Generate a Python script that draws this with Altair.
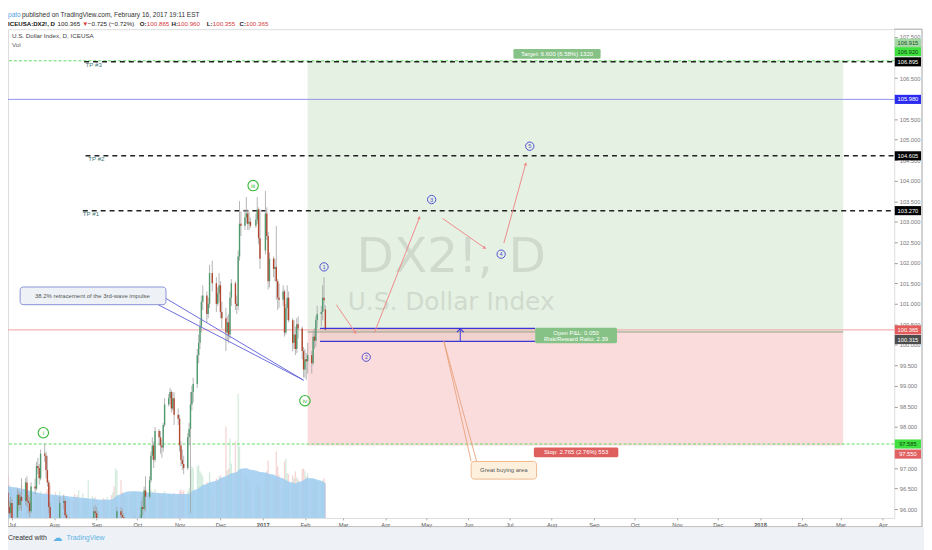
import math
import altair as alt
import pandas as pd

W, H = 894, 493
FONT = "Liberation Sans"

# ---------------- trading days ----------------
holidays = ["2016-07-04", "2016-09-05", "2016-11-24", "2016-12-26", "2017-01-02"]
trade_days = [d for d in pd.bdate_range("2016-06-28", "2017-02-16")
              if d.strftime("%Y-%m-%d") not in holidays]
dates = [d.strftime("%Y-%m-%dT00:00:00") for d in trade_days]

# ---------------- OHLC (Jun28-Jul | Aug | Sep | Oct | Nov | Dec | Jan | Feb) ----------------
opens = [
    96.40, 96.05, 95.90, 96.15, 95.80, 96.35, 96.10, 96.30, 96.20, 96.65, 96.20, 96.15, 95.95, 96.55, 96.50, 97.05, 97.00, 96.75, 97.35, 97.30, 96.95, 96.65, 96.05,
    95.45, 95.60, 95.05, 95.35, 95.60, 96.15, 96.20, 95.85, 95.50, 95.65, 95.50, 95.25, 94.75, 94.70, 94.30, 94.50, 94.55, 94.45, 94.80, 94.85, 95.45, 95.70, 95.95,
    95.90, 95.65, 95.60, 94.85, 94.70, 95.00, 95.25, 95.00, 95.35, 95.30, 95.40, 95.95, 95.85, 95.80, 95.15, 95.20, 95.30, 95.15, 95.35, 95.50, 95.70,
    95.35, 95.70, 96.05, 96.00, 96.45, 96.30, 96.70, 97.30, 97.55, 97.20, 97.90, 97.75, 97.55, 97.50, 98.05, 98.55, 98.70, 98.85, 98.45, 98.70, 98.30,
    98.20, 97.55, 97.20, 97.10, 97.00, 97.75, 97.95, 98.55, 98.85, 99.05, 99.75, 100.05, 100.45, 101.05, 101.20, 100.75, 101.00, 101.75, 101.50, 101.00, 101.25,
    101.45, 100.80, 100.65, 100.30, 100.55, 100.25, 101.15, 101.50, 101.00, 100.95, 102.15, 102.95, 102.90, 103.10, 103.20, 102.95, 103.00, 102.90, 103.05, 103.30, 102.60,
    102.30, 103.20, 102.65, 101.55, 102.10, 101.85, 101.90, 101.55, 101.15, 101.10, 101.30, 100.30, 100.90, 101.15, 100.60, 100.05, 100.25, 99.90, 100.50, 100.40, 99.85,
    99.40, 99.65, 99.60, 99.75, 99.55, 100.20, 100.10, 100.60, 100.75, 100.80, 101.15, 100.865,
]
highs = [
    96.55, 96.20, 96.30, 96.25, 96.50, 96.45, 96.40, 96.75, 96.75, 96.80, 96.35, 96.30, 96.65, 96.75, 97.15, 97.25, 97.10, 97.45, 97.60, 97.40, 97.30, 96.70, 96.15,
    95.75, 95.65, 95.40, 95.70, 96.30, 96.35, 96.25, 95.90, 95.75, 95.80, 95.60, 95.30, 94.95, 94.75, 94.55, 94.70, 94.60, 94.90, 94.95, 95.75, 95.80, 96.05, 96.10,
    96.05, 95.95, 95.70, 95.00, 95.10, 95.40, 95.30, 95.45, 95.50, 95.50, 96.05, 96.05, 96.00, 95.90, 95.30, 95.40, 95.40, 95.45, 95.60, 95.80, 95.75,
    95.85, 96.20, 96.30, 96.55, 96.80, 96.80, 97.40, 97.75, 97.65, 98.00, 97.95, 97.90, 97.70, 98.10, 98.70, 98.80, 98.95, 98.90, 98.85, 98.85, 98.45,
    98.30, 97.65, 97.45, 97.30, 97.85, 98.10, 98.85, 99.00, 99.20, 99.90, 100.25, 100.60, 101.20, 101.45, 101.30, 101.15, 101.95, 102.05, 101.65, 101.40, 101.75,
    101.55, 101.05, 100.90, 100.70, 100.75, 101.30, 101.60, 101.55, 101.20, 102.30, 103.50, 103.25, 103.30, 103.60, 103.30, 103.25, 103.10, 103.20, 103.60, 103.35, 103.30,
    103.75, 103.35, 102.75, 102.25, 102.15, 102.10, 102.90, 101.60, 101.50, 101.45, 101.35, 101.00, 101.45, 101.30, 100.65, 100.60, 100.45, 100.65, 100.70, 100.45, 99.95,
    99.90, 99.80, 100.05, 99.85, 100.35, 100.40, 100.70, 100.95, 100.95, 101.45, 101.65, 100.96,
]
lows = [
    95.90, 95.80, 95.80, 95.60, 95.75, 95.95, 96.00, 95.95, 96.10, 96.05, 95.90, 95.80, 95.90, 96.35, 96.45, 96.85, 96.60, 96.70, 97.15, 96.75, 96.55, 95.90, 95.30,
    95.35, 94.95, 94.95, 95.25, 95.55, 96.00, 95.80, 95.40, 95.40, 95.35, 95.15, 94.60, 94.55, 94.20, 94.10, 94.30, 94.20, 94.40, 94.65, 94.30, 95.35, 95.60, 95.80,
    95.55, 95.35, 94.70, 94.50, 94.60, 94.85, 94.80, 94.95, 95.15, 95.05, 95.35, 95.70, 95.65, 95.05, 94.90, 95.10, 95.05, 95.05, 95.25, 95.40, 95.30,
    95.30, 95.60, 95.85, 95.95, 95.95, 96.25, 96.65, 97.20, 97.00, 97.15, 97.55, 97.35, 97.25, 97.40, 98.00, 98.50, 98.55, 98.35, 98.40, 98.05, 98.05,
    97.40, 97.05, 96.95, 96.85, 96.95, 97.55, 95.90, 98.40, 98.60, 98.95, 99.55, 99.90, 100.30, 100.85, 100.55, 100.65, 100.90, 101.30, 100.80, 100.95, 101.05,
    100.65, 100.40, 99.85, 100.10, 100.05, 100.15, 100.95, 100.85, 100.75, 100.85, 102.05, 102.65, 102.80, 102.95, 102.80, 102.80, 102.85, 102.85, 102.95, 102.45, 101.85,
    102.20, 102.55, 101.35, 101.40, 101.65, 101.55, 101.10, 100.85, 100.90, 100.95, 100.20, 100.25, 100.60, 100.55, 99.85, 99.90, 99.75, 99.80, 100.15, 99.65, 99.20,
    99.20, 99.15, 99.30, 99.30, 99.50, 99.90, 99.95, 100.40, 100.45, 100.60, 100.85, 100.355,
]
closes = [
    96.05, 95.90, 96.15, 95.75, 96.35, 96.10, 96.30, 96.20, 96.65, 96.20, 96.15, 95.95, 96.55, 96.50, 97.05, 97.00, 96.75, 97.35, 97.30, 96.95, 96.65, 96.05, 95.45,
    95.60, 95.05, 95.35, 95.60, 96.15, 96.20, 95.85, 95.50, 95.65, 95.50, 95.25, 94.75, 94.70, 94.30, 94.50, 94.55, 94.45, 94.80, 94.85, 95.45, 95.70, 95.95, 95.90,
    95.65, 95.75, 94.85, 94.70, 95.00, 95.25, 95.00, 95.35, 95.30, 95.40, 95.95, 95.85, 95.80, 95.15, 95.20, 95.30, 95.15, 95.35, 95.50, 95.70, 95.35,
    95.70, 96.05, 96.00, 96.45, 96.30, 96.70, 97.30, 97.55, 97.20, 97.90, 97.75, 97.55, 97.50, 98.05, 98.55, 98.70, 98.85, 98.45, 98.70, 98.30, 98.20,
    97.55, 97.20, 97.10, 97.00, 97.75, 97.95, 98.55, 98.85, 99.05, 99.75, 100.05, 100.45, 101.05, 101.20, 100.75, 101.00, 101.75, 101.50, 101.00, 101.25, 101.45,
    100.80, 100.65, 100.30, 100.55, 100.25, 101.15, 101.50, 101.00, 100.95, 102.15, 102.95, 102.90, 103.10, 103.20, 102.95, 103.00, 102.90, 103.05, 103.30, 102.60, 102.10,
    103.20, 102.65, 101.55, 102.10, 101.85, 101.90, 101.55, 101.15, 101.10, 101.30, 100.30, 100.90, 101.15, 100.60, 100.05, 100.25, 99.90, 100.50, 100.40, 99.85, 99.40,
    99.65, 99.60, 99.75, 99.55, 100.20, 100.10, 100.60, 100.75, 100.80, 101.15, 101.09, 100.365,
]
volumes = [
    4200, 3300, 3100, 2900, 2700, 3000, 2600, 3300, 2500, 2800, 2400, 2600, 2700, 2100, 2500, 2200, 2400, 2700, 2300, 2600, 2900, 3100, 3300,
    2300, 2600, 2100, 2000, 2700, 1900, 2000, 2200, 1800, 1900, 1700, 2400, 2100, 2300, 2800, 2500, 1800, 2000, 1900, 3800, 2200, 2000, 2100,
    1800, 1700, 2000, 1900, 1800, 2100, 2300, 2600, 3200, 5000, 4800, 3800, 2600, 2400, 2200, 2300, 2500, 2400, 2600, 2700, 2500,
    2400, 2600, 2500, 2800, 2900, 2300, 2800, 2700, 2600, 2900, 2400, 2300, 2200, 2500, 2700, 2400, 2300, 2200, 2300, 2500, 2200,
    2700, 2900, 2600, 2800, 2700, 3000, 4800, 5200, 5000, 5200, 5300, 4700, 4500, 4200, 3600, 3500, 4600, 2600, 4000, 3800, 4200,
    4300, 4000, 9200, 4800, 5000, 8000, 5500, 7700, 4600, 12500, 7200, 4800, 4300, 4100, 3800, 3500, 2800, 3000, 3600, 3400, 3300,
    4500, 4700, 5800, 4400, 3900, 4100, 6700, 5200, 4300, 3000, 5700, 6000, 4500, 4400, 4300, 4000, 4700, 4100, 3900, 4900, 5000,
    4700, 4200, 4500, 3800, 4000, 3700, 3900, 3600, 3500, 3800, 4000, 3500,
]
vol_ma = [
    3200, 3180, 3150, 3110, 3070, 3030, 2990, 2950, 2900, 2850, 2800, 2750, 2700, 2650, 2600, 2560, 2520, 2480, 2450, 2420, 2400, 2380, 2360,
    2340, 2320, 2300, 2280, 2260, 2240, 2220, 2200, 2180, 2160, 2140, 2120, 2100, 2080, 2060, 2040, 2020, 2000, 1980, 1960, 1940, 1920, 1900,
    1880, 1860, 1840, 1830, 1830, 1840, 1870, 1920, 2000, 2130, 2260, 2380, 2460, 2530, 2590, 2640, 2680, 2700, 2700, 2690, 2680,
    2670, 2650, 2630, 2610, 2590, 2570, 2560, 2550, 2540, 2530, 2520, 2510, 2500, 2490, 2480, 2470, 2460, 2450, 2440, 2430, 2420,
    2410, 2400, 2400, 2410, 2420, 2440, 2540, 2660, 2780, 2900, 3020, 3130, 3230, 3330, 3420, 3500, 3600, 3660, 3740, 3820, 3900,
    4000, 4080, 4200, 4270, 4340, 4420, 4500, 4580, 4640, 4780, 4900, 4960, 5000, 5010, 4980, 4920, 4850, 4790, 4730, 4680, 4640,
    4580, 4540, 4490, 4430, 4370, 4310, 4250, 4180, 4100, 4000, 3900, 3820, 3740, 3660, 3580, 3510, 3480, 3530, 3620, 3720, 3820,
    3900, 3980, 4020, 4000, 3980, 3950, 3900, 3840, 3760, 3680, 3600, 3500,
]
n = len(dates)
assert all(len(a) == n for a in [opens, highs, lows, closes, volumes, vol_ma]), n

# ---------------- levels / drawings ----------------
entry, target, stop = 100.315, 106.915, 97.550
tool_start, tool_end = "2017-02-03", "2018-03-03"
last_price = 100.365
green_dash_levels = [106.920, 97.585]
blue_level = 105.980
tp_names = ["TP #3", "TP #2", "TP #1"]
tp_levels = [106.895, 104.605, 103.270]
tp_start = ["2016-08-23", "2016-08-24", "2016-08-22"]
tp_text_x = ["2016-08-24", "2016-08-26", "2016-08-22"]
tp_text_p = [106.82, 104.53, 103.18]

zone_start, zone_end = "2017-02-12", "2017-07-20"
zone_top, zone_bottom = 100.40, 100.085
caret_date = "2017-05-26"

arrow_from = ["2017-02-24", "2017-03-24", "2017-05-13", "2017-06-27"]
arrow_to = ["2017-03-10", "2017-04-26", "2017-06-13", "2017-07-13"]
arrow_p_from = [100.98, 100.30, 103.08, 102.48]
arrow_p_to = [100.30, 103.10, 102.36, 104.41]

wave_dates = ["2017-02-15", "2017-03-18", "2017-05-05", "2017-06-25", "2017-07-16"]
wave_prices = [101.90, 99.70, 103.54, 102.21, 104.84]
wave_names = ["1", "2", "3", "4", "5"]
big_wave_dates = ["2016-07-24", "2016-12-25", "2017-02-01"]
big_wave_prices = [97.86, 103.88, 98.64]
big_wave_names = ["i", "iii", "iv"]

note1_text = "38.2% retracement of the 3rd-wave impulse"
note1_box = ["2016-07-07", "2016-10-22", 101.41, 100.98]
note1_at = ["2016-08-29", 101.195]
note1_tail_from = [("2016-10-21", 101.15), ("2016-10-15", 101.00)]
note1_tip = ("2017-01-31", 99.14)

note2_text = "Great buying area"
note2_box = ["2017-06-03", "2017-07-21", 97.16, 96.73]
note2_at = ["2017-06-27", 96.945]
note2_tip = ("2017-05-14", 100.085)
note2_tail_to = [("2017-06-03", 97.16), ("2017-06-07", 97.16)]

target_text = "Target: 6.600 (6.58%) 1320"
target_box = ["2017-07-04", "2017-09-06", 107.21, 106.97]
target_at = ["2017-08-05", 107.09]
pnl_lines = ["Open P&L: 0.050", "Risk/Reward Ratio: 2.39"]
pnl_box = ["2017-07-20", "2017-09-18", 100.42, 100.04]
pnl_at = ["2017-08-19", [100.30, 100.145]]
stop_text = "Stop: 2.765 (2.76%) 553"
stop_box = ["2017-07-19", "2017-09-19", 97.50, 97.26]
stop_at = ["2017-08-19", 97.38]

axis_label_values = [106.915, 106.920, 106.895, 105.980, 104.605, 103.270, 100.365, 100.315, 97.585, 97.550]
axis_label_at = [107.35, 107.14, 106.895, 105.98, 104.605, 103.27, 100.365, 100.13, 97.585, 97.34]
axis_label_bg = ["#a3d8a4", "#3fe03f", "#000000", "#2b2bf0", "#000000", "#000000", "#e35b5b", "#4d4d4d", "#3fe03f", "#e06262"]
axis_label_fg = ["#1d4d1d", "#124012", "#ffffff", "#ffffff", "#ffffff", "#ffffff", "#ffffff", "#ffffff", "#124012", "#ffffff"]

# tick labels that the reference leaves visible (107.000, 106.000, 97.500 sit under level labels)
price_ticks = [96.0, 96.5, 97.0, 98.0, 98.5, 99.0, 99.5, 100.0, 100.5, 101.0, 101.5,
               102.0, 102.5, 103.0, 103.5, 104.0, 104.5, 105.0, 105.5, 106.5, 107.5]
month_ticks = ["2016-07", "2016-08", "2016-09", "2016-10", "2016-11", "2016-12", "2017-01", "2017-02",
               "2017-03", "2017-04", "2017-05", "2017-06", "2017-07", "2017-08", "2017-09", "2017-10",
               "2017-11", "2017-12", "2018-01", "2018-02", "2018-03", "2018-04"]

# ---------------- scales ----------------
X_START = pd.Timestamp("2016-06-28 02:00")
X_END = pd.Timestamp("2018-04-09 12:00")
Y_DOM = [95.785, 107.69]
PX_PER_DAY = W / ((X_END - X_START).total_seconds() / 86400)
PX_PER_P = H / (Y_DOM[1] - Y_DOM[0])

def dtobj(ts):
    return alt.DateTime(year=ts.year, month=ts.month, date=ts.day, hours=ts.hour)

x_scale = alt.Scale(domain=[dtobj(X_START), dtobj(X_END)])
y_scale = alt.Scale(domain=Y_DOM, zero=False, nice=False)
v_scale = alt.Scale(domain=[0, 49300], zero=True, nice=False)
END_ISO = X_END.strftime("%Y-%m-%dT%H:%M:%S")

def iso(s):
    return s + "T00:00:00"

x_axis = alt.Axis(
    values=[alt.DateTime(year=int(m[:4]), month=int(m[5:7]), date=1) for m in month_ticks],
    labelExpr="month(datum.value) == 0 ? timeFormat(datum.value, '%Y') : timeFormat(datum.value, '%b')",
    labelFontWeight=alt.condition("month(datum.value) == 0", alt.value("bold"), alt.value("normal")),
    labelFont=FONT, labelFontSize=5.8, labelColor="#555555", tickColor="#aaaaaa", tickSize=2,
    labelPadding=2, domain=False, grid=False, title=None, labelFlush=False)
y_axis = alt.Axis(
    orient="right", values=price_ticks, format=".3f", labelFont=FONT, labelFontSize=5.8,
    labelColor="#777777", tickColor="#999999", tickSize=3, labelPadding=2, domain=False,
    grid=False, title=None, labelFlush=False)

def X(f):
    return alt.X(f"{f}:T", scale=x_scale, axis=x_axis)

def Y(f):
    return alt.Y(f"{f}:Q", scale=y_scale, axis=y_axis)

UP, DOWN, WICK = "#4f9a6e", "#b3452f", "#a3a3a3"
BLUE_W, GREEN_W = "#5050cf", "#34b834"
ARROW = "#ef8b8b"
BLUE_LINE = "#3838d8"

df = pd.DataFrame({"date": dates, "open": opens, "high": highs, "low": lows,
                   "close": closes, "vol": volumes, "vma": vol_ma})
df["zero"] = 0

def one(**kw):
    return alt.Chart(pd.DataFrame({k: [v] for k, v in kw.items()} if kw else {"k": [0]}))

def label(x, y, s, color="#333333", size=6.5, weight="normal", align="left",
          font=FONT, baseline="middle", opacity=1.0):
    return one(t=s).mark_text(align=align, baseline=baseline, font=font, fontSize=size,
                              fontWeight=weight, color=color, opacity=opacity).encode(
        x=alt.value(x), y=alt.value(y), text="t:N")

def prule(x, y, x2=None, y2=None, color="#a3a3a3", width=1.0):
    enc = dict(x=alt.value(x), y=alt.value(y))
    if x2 is not None:
        enc["x2"] = alt.value(x2)
    if y2 is not None:
        enc["y2"] = alt.value(y2)
    return one().mark_rule(color=color, strokeWidth=width).encode(**enc)

# ---------------- volume ----------------
vcol = alt.condition("datum.close >= datum.open", alt.value("#6fbf8f"), alt.value("#e57373"))
vbars = alt.Chart(df).mark_rule(strokeWidth=1.3, opacity=0.3).encode(
    x=X("date"), y=alt.Y("vol:Q", scale=v_scale, axis=None), y2="zero:Q", color=vcol)
varea = alt.Chart(df).mark_area(color="#9dcdf0", opacity=0.85).encode(
    x=X("date"), y=alt.Y("vma:Q", scale=v_scale, axis=None))
vol_layer = alt.layer(vbars, varea)

layers = []

# position tool zones
zone_green = one(x1=iso(tool_start), x2=iso(tool_end), p1=entry, p2=target).mark_rect(color="#e5f1e3").encode(
    x=X("x1"), x2="x2:T", y=Y("p1"), y2="p2:Q")
zone_red = one(x1=iso(tool_start), x2=iso(tool_end), p1=stop, p2=entry).mark_rect(color="#fadcdd").encode(
    x=X("x1"), x2="x2:T", y=Y("p1"), y2="p2:Q")
layers += [zone_green, zone_red]

# watermark
layers.append(label(W / 2, 245, "DX2!, D", color="#000000", size=49, align="center",
                    font="DejaVu Sans", baseline="alphabetic", opacity=0.09))
layers.append(label(W / 2, 283, "U.S. Dollar Index", color="#000000", size=25, align="center",
                    font="DejaVu Sans", baseline="alphabetic", opacity=0.09))

# buying-area fill
layers.append(one(x1=iso(zone_start), x2=iso(zone_end), p1=zone_bottom, p2=zone_top).mark_rect(
    color="#c8a58a", opacity=0.18).encode(x=X("x1"), x2="x2:T", y=Y("p1"), y2="p2:Q"))

# horizontal levels
def hline(p, color, width=1.0, dash=None):
    kw = dict(color=color, strokeWidth=width)
    if dash:
        kw["strokeDash"] = dash
    return one(p=p).mark_rule(**kw).encode(y=Y("p"))

layers.append(hline(blue_level, "#9393e8"))
layers.append(hline(last_price, "#f0a0a0"))
for lv in green_dash_levels:
    layers.append(hline(lv, "#5fdc5f", 1.0, [3, 2]))
layers.append(one(x1=iso(tool_start), x2=iso(tool_end), p=entry).mark_rule(
    color="#9c9c86", strokeWidth=1).encode(x=X("x1"), x2="x2:T", y=Y("p")))

tp_df = pd.DataFrame({"x1": [iso(s) for s in tp_start], "x2": [END_ISO] * 3, "p": tp_levels,
                      "tx": [iso(s) for s in tp_text_x], "tp": tp_text_p, "name": tp_names})
layers.append(alt.Chart(tp_df).mark_rule(color="#222222", strokeWidth=1.5, strokeDash=[5, 4]).encode(
    x=X("x1"), x2="x2:T", y=Y("p")))
layers.append(alt.Chart(tp_df).mark_text(align="left", baseline="middle", font=FONT, fontSize=6.2,
                                         color="#3f7878").encode(x=X("tx"), y=Y("tp"), text="name:N"))

# candles
wick = alt.Chart(df).mark_rule(color=WICK, strokeWidth=0.8, clip=True).encode(
    x=X("date"), y=Y("low"), y2="high:Q")
body = alt.Chart(df).mark_rule(strokeWidth=1.4, clip=True).encode(
    x=X("date"), y=Y("open"), y2="close:Q",
    color=alt.condition("datum.close >= datum.open", alt.value(UP), alt.value(DOWN)))
layers += [wick, body]

# buying-area lines + caret
zl = pd.DataFrame({"x1": [iso(zone_start)] * 2, "x2": [iso(zone_end)] * 2, "p": [zone_top, zone_bottom]})
layers.append(alt.Chart(zl).mark_rule(color=BLUE_LINE, strokeWidth=1.2).encode(x=X("x1"), x2="x2:T", y=Y("p")))
layers.append(one(x=iso(caret_date), p1=zone_bottom, p2=zone_top - 0.04).mark_rule(
    color=BLUE_LINE, strokeWidth=1).encode(x=X("x"), y=Y("p1"), y2="p2:Q"))
layers.append(one(x=iso(caret_date), p=zone_top - 0.04).mark_point(
    shape="M-1,0.6L0,-0.4L1,0.6", filled=False, size=45, strokeWidth=1.2, color=BLUE_LINE, opacity=1).encode(
    x=X("x"), y=Y("p")))

# arrows
angles = []
for a, b, p1, p2 in zip(arrow_from, arrow_to, arrow_p_from, arrow_p_to):
    dx = (pd.Timestamp(b) - pd.Timestamp(a)).days * PX_PER_DAY
    dy = -(p2 - p1) * PX_PER_P
    angles.append(math.degrees(math.atan2(dx, -dy)) % 360)
adf = pd.DataFrame({"x1": [iso(s) for s in arrow_from], "x2": [iso(s) for s in arrow_to],
                    "p1": arrow_p_from, "p2": arrow_p_to, "ang": angles})
layers.append(alt.Chart(adf).mark_rule(color=ARROW, strokeWidth=1).encode(
    x=X("x1"), x2="x2:T", y=Y("p1"), y2="p2:Q"))
layers.append(alt.Chart(adf).mark_point(shape="triangle-up", filled=True, size=14, color=ARROW, opacity=1).encode(
    x=X("x2"), y=Y("p2"), angle=alt.Angle("ang:Q", scale=None)))

# wave labels
wdf = pd.DataFrame({"x": [iso(s) for s in wave_dates], "p": wave_prices, "t": wave_names})
layers.append(alt.Chart(wdf).mark_point(shape="circle", filled=False, size=70, strokeWidth=1,
                                        color=BLUE_W, opacity=1).encode(x=X("x"), y=Y("p")))
layers.append(alt.Chart(wdf).mark_text(font=FONT, fontSize=5.8, color=BLUE_W, baseline="middle").encode(
    x=X("x"), y=Y("p"), text="t:N"))
gdf = pd.DataFrame({"x": [iso(s) for s in big_wave_dates], "p": big_wave_prices, "t": big_wave_names})
layers.append(alt.Chart(gdf).mark_point(shape="circle", filled=False, size=110, strokeWidth=1.1,
                                        color=GREEN_W, opacity=1).encode(x=X("x"), y=Y("p")))
layers.append(alt.Chart(gdf).mark_text(font=FONT, fontSize=6.2, color=GREEN_W, baseline="middle").encode(
    x=X("x"), y=Y("p"), text="t:N"))

# callout 1
t1 = pd.DataFrame({"x1": [iso(a) for a, _ in note1_tail_from], "p1": [p for _, p in note1_tail_from],
                   "x2": [iso(note1_tip[0])] * 2, "p2": [note1_tip[1]] * 2})
layers.append(alt.Chart(t1).mark_rule(color="#5d5dd8", strokeWidth=0.9).encode(
    x=X("x1"), x2="x2:T", y=Y("p1"), y2="p2:Q"))
layers.append(one(x1=iso(note1_box[0]), x2=iso(note1_box[1]), p1=note1_box[2], p2=note1_box[3]).mark_rect(
    fill="#eef2f6", stroke="#8c94d6", strokeWidth=1, cornerRadius=3).encode(
    x=X("x1"), x2="x2:T", y=Y("p1"), y2="p2:Q"))
layers.append(one(x=iso(note1_at[0]), p=note1_at[1], t=note1_text).mark_text(
    font=FONT, fontSize=6, color="#555555", baseline="middle").encode(x=X("x"), y=Y("p"), text="t:N"))

# callout 2
t2 = pd.DataFrame({"x1": [iso(note2_tip[0])] * 2, "p1": [note2_tip[1]] * 2,
                   "x2": [iso(a) for a, _ in note2_tail_to], "p2": [p for _, p in note2_tail_to]})
layers.append(alt.Chart(t2).mark_rule(color="#e8a27a", strokeWidth=0.9).encode(
    x=X("x1"), x2="x2:T", y=Y("p1"), y2="p2:Q"))
layers.append(one(x1=iso(note2_box[0]), x2=iso(note2_box[1]), p1=note2_box[2], p2=note2_box[3]).mark_rect(
    fill="#fdf1de", stroke="#efb98e", strokeWidth=1, cornerRadius=3).encode(
    x=X("x1"), x2="x2:T", y=Y("p1"), y2="p2:Q"))
layers.append(one(x=iso(note2_at[0]), p=note2_at[1], t=note2_text).mark_text(
    font=FONT, fontSize=6, color="#555555", baseline="middle").encode(x=X("x"), y=Y("p"), text="t:N"))

# position tool labels
def boxed(box, color):
    return one(x1=iso(box[0]), x2=iso(box[1]), p1=box[2], p2=box[3]).mark_rect(
        color=color, cornerRadius=1.5).encode(x=X("x1"), x2="x2:T", y=Y("p1"), y2="p2:Q")

layers.append(boxed(target_box, "#86c285"))
layers.append(one(x=iso(target_at[0]), p=target_at[1], t=target_text).mark_text(
    font=FONT, fontSize=6, color="#ffffff", baseline="middle").encode(x=X("x"), y=Y("p"), text="t:N"))
layers.append(boxed(pnl_box, "#86c285"))
pdf = pd.DataFrame({"x": [iso(pnl_at[0])] * 2, "p": pnl_at[1], "t": pnl_lines})
layers.append(alt.Chart(pdf).mark_text(font=FONT, fontSize=6, color="#ffffff", baseline="middle").encode(
    x=X("x"), y=Y("p"), text="t:N"))
layers.append(boxed(stop_box, "#df5f5f"))
layers.append(one(x=iso(stop_at[0]), p=stop_at[1], t=stop_text).mark_text(
    font=FONT, fontSize=6, color="#ffffff", baseline="middle").encode(x=X("x"), y=Y("p"), text="t:N"))

# price-axis labels
half = 4.6 / PX_PER_P
ldf = pd.DataFrame({"at": axis_label_at, "t": [f"{v:.3f}" for v in axis_label_values],
                    "bg": axis_label_bg, "fg": axis_label_fg})
ldf["hi"] = ldf["at"] + half
ldf["lo"] = ldf["at"] - half
layers.append(alt.Chart(ldf).mark_rect().encode(
    x=alt.value(894.5), x2=alt.value(921), y=Y("hi"), y2="lo:Q", color=alt.Color("bg:N", scale=None)))
layers.append(alt.Chart(ldf).mark_text(font=FONT, fontSize=5.8, baseline="middle", align="center").encode(
    x=alt.value(907.75), y=Y("at"), text="t:N", color=alt.Color("fg:N", scale=None)))

# frame pieces outside the view
layers.append(prule(894, 0, x2=922))
layers.append(prule(922, 0, y2=502))
layers.append(prule(0, 502, x2=922))
layers.append(prule(0, 493, y2=502))
layers.append(one().mark_rect(color="#eef1f6").encode(
    x=alt.value(-8), x2=alt.value(930), y=alt.value(502.5), y2=alt.value(530)))

# header / legend texts
layers.append(label(0, -14, "pato", color="#4fa3e0", size=6.6))
layers.append(label(14, -14, "published on TradingView.com, February 16, 2017 19:11 EST", color="#333333", size=6.6))
layers.append(label(0, -5, "ICEUSA:DX2!, D", color="#111111", size=6.2, weight="bold"))
layers.append(label(50, -5, "100.365", color="#222222", size=6.3))
layers.append(label(75, -5, "\u25bc", color="#d43c3c", size=6.3))
layers.append(label(80.5, -5, "\u22120.725 (\u22120.72%)", color="#222222", size=6.3))
for lab, vx, val, lx in [("O:", 140, "100.865", 133), ("H:", 171, "100.960", 165),
                         ("L:", 206.5, "100.355", 200.5), ("C:", 240, "100.365", 233.5)]:
    layers.append(label(lx, -5, lab, color="#222222", size=6.2, weight="bold"))
    layers.append(label(vx, -5, val, color="#d43c3c", size=6.3))
layers.append(label(4, 7, "U.S. Dollar Index, D, ICEUSA", color="#444444", size=6.3))
layers.append(label(4, 16, "Vol", color="#666666", size=6.3))
layers.append(label(0, 513, "Created with", color="#333333", size=7))
layers.append(label(45, 513, "\u2601", color="#5eb3e4", size=10, font="DejaVu Sans"))
layers.append(label(59, 513, "TradingView", color="#5eb3e4", size=7))

price_layer = alt.layer(*layers)

chart = alt.layer(vol_layer, price_layer).resolve_scale(y="independent").properties(
    width=W, height=H,
    padding={"left": 0, "top": 19, "right": 30, "bottom": 30},
    autosize=alt.AutoSizeParams(type="none"),
).configure_view(stroke="#a3a3a3", strokeWidth=1).configure(background="#ffffff")

chart.save("out.html", embed_options={"renderer": "svg", "actions": False})
